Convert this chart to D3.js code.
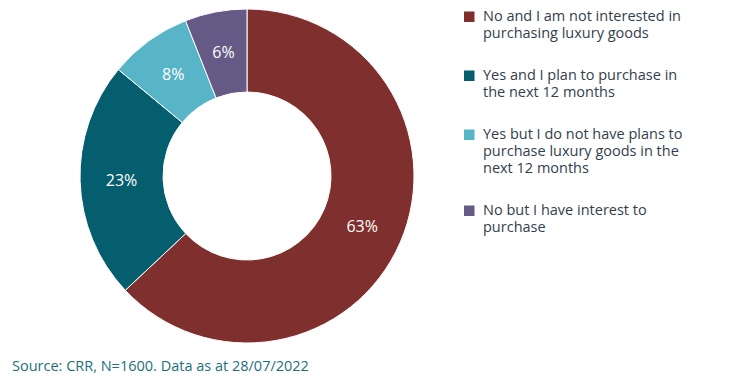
<!DOCTYPE html>
<html>
<head>
<meta charset="utf-8">
<script src="https://cdn.jsdelivr.net/npm/d3@7"></script>
<style>
  body { margin: 0; background: #fff; }
  svg { display: block; font-family: "Open Sans", sans-serif; }
</style>
</head>
<body>
<div id="chart"></div>
<script>
// data
const categories = [
  "No and I am not interested in purchasing luxury goods",
  "Yes and I plan to purchase in the next 12 months",
  "Yes but I do not have plans to purchase luxury goods in the next 12 months",
  "No but I have interest to purchase"
];
const legendLines = [
  ["No and I am not interested in", "purchasing luxury goods"],
  ["Yes and I plan to purchase in", "the next 12 months"],
  ["Yes but I do not have plans to", "purchase luxury goods in the", "next 12 months"],
  ["No but I have interest to", "purchase"]
];
const values = [63, 23, 8, 6];
const colors = ["#7f2f2d", "#045e6e", "#57b5c7", "#655a85"];
const sourceText = "Source: CRR, N=1600. Data as at 28/07/2022";

const width = 733, height = 387;
const cx = 247, cy = 176;
const outerR = 167, innerR = 84;

const svg = d3.select("#chart")
  .append("svg")
  .attr("width", width)
  .attr("height", height);

const pie = d3.pie().sort(null).value(d => d);
const arc = d3.arc().innerRadius(innerR).outerRadius(outerR);
const labelArc = d3.arc().innerRadius((innerR + outerR) / 2).outerRadius((innerR + outerR) / 2);

const g = svg.append("g").attr("transform", `translate(${cx},${cy})`);

const slices = g.selectAll("g.slice")
  .data(pie(values))
  .enter()
  .append("g")
  .attr("class", "slice");

slices.append("path")
  .attr("d", arc)
  .attr("fill", (d, i) => colors[i])
  .attr("stroke", "#fff")
  .attr("stroke-width", 1);

slices.append("text")
  .attr("transform", d => `translate(${labelArc.centroid(d)})`)
  .attr("text-anchor", "middle")
  .attr("dy", "0.36em")
  .attr("fill", "#fff")
  .style("font-size", "16px")
  .text(d => d.data + "%");

// legend
const legend = svg.append("g").attr("transform", "translate(464,0)");
let y = 21;
legendLines.forEach((lines, i) => {
  const item = legend.append("g").attr("transform", `translate(0,${y})`);
  item.append("rect")
    .attr("x", 0)
    .attr("y", -9.5)
    .attr("width", 10.5)
    .attr("height", 10.5)
    .attr("fill", colors[i]);
  const t = item.append("text")
    .attr("x", 19)
    .attr("fill", "#333e4e")
    .style("font-size", "14.5px");
  lines.forEach((ln, j) => {
    t.append("tspan").attr("x", 19).attr("y", j * 17).text(ln);
  });
  y += (lines.length - 1) * 17 + 42;
});

// source
svg.append("text")
  .attr("x", 12)
  .attr("y", 371)
  .attr("fill", "#1d6f7c")
  .style("font-size", "14.5px")
  .text(sourceText);
</script>
</body>
</html>
